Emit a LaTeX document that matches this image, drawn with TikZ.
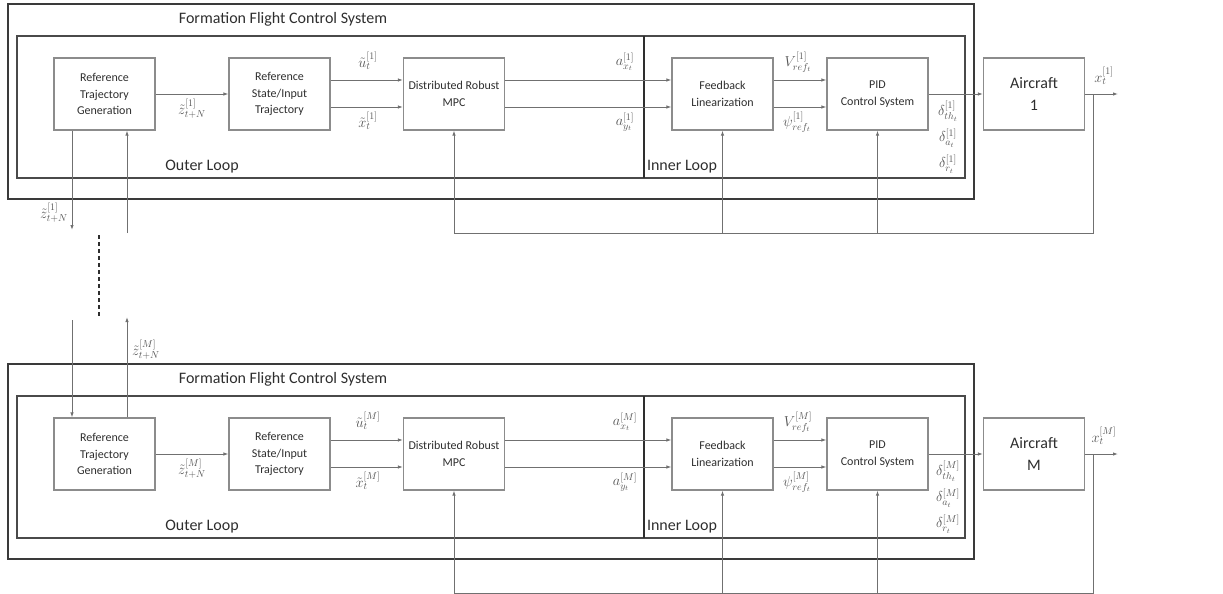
\documentclass[tikz,border=0pt]{standalone}
\usepackage[no-math]{fontspec}
\setmainfont{Carlito}
\usepackage{xcolor}
\usetikzlibrary{arrows.meta}
\definecolor{framegray}{HTML}{3A3A3A}
\definecolor{innergray}{HTML}{4A4A4A}
\definecolor{boxgray}{HTML}{8C8C8C}
\definecolor{linegray}{HTML}{707070}
\definecolor{txtgray}{HTML}{2E2E2E}
\definecolor{lblgray}{HTML}{555555}

\begin{document}
\begin{tikzpicture}[x=1pt,y=-1pt,
    blk/.style={draw=boxgray,line width=1.2pt,minimum width=101pt,minimum height=72pt,
      align=center,text=txtgray,font=\fontsize{12}{16.5}\selectfont},
    acft/.style={blk,font=\fontsize{16}{22.5}\selectfont},
    wire/.style={draw=linegray,line width=0.9pt},
    arr/.style={wire,-{Latex[length=5pt,width=3.5pt]}},
    lbl/.style={text=lblgray,font=\fontsize{14}{16}\selectfont,inner sep=0pt},
    stack/.style={lbl,align=center,font=\fontsize{14}{26}\selectfont},
    ttl/.style={text=txtgray,font=\fontsize{16}{19}\selectfont,inner sep=0pt}]
  \useasboundingbox (0,0) rectangle (1223,594);
  \foreach \s/\dy/\idx in {a/0/1,m/360/M} {
    \draw[line width=2.6pt,draw=framegray] (8,{4+\dy}) rectangle (974,{199+\dy});
    \draw[line width=1.8pt,draw=innergray] (17,{36+\dy}) rectangle (965,{178+\dy});
    \draw[line width=1.5pt,draw=txtgray] (644,{36+\dy}) -- (644,{178+\dy});
    \node[ttl] (title\s) at (283,{19+\dy}) {Formation Flight Control System};
    \node[ttl] (outer\s) at (202,{167+\dy}) {Outer Loop};
    \node[ttl] (inner\s) at (682,{167+\dy}) {Inner Loop};
    \node[blk] (rtg\s) at (104.5,{94+\dy}) {Reference\\Trajectory\\Generation};
    \node[blk] (rsit\s) at (279.5,{94+\dy}) {Reference\\State/Input\\Trajectory};
    \node[blk] (mpc\s) at (454,{94+\dy}) {Distributed Robust\\MPC};
    \node[blk] (fl\s) at (722.5,{94+\dy}) {Feedback\\Linearization};
    \node[blk] (pid\s) at (877.5,{94+\dy}) {PID\\Control System};
    \node[acft] (ac\s) at (1034,{94+\dy}) {Aircraft\\\idx};
    \coordinate (tap\s) at (1093,{94+\dy});
    \coordinate (out\s) at (1118,{94+\dy});
    \coordinate (fb\s) at (1093,{233+\dy});
    \draw[arr] (rtg\s) -- (rsit\s);
    \foreach \a/\b in {rsit/mpc,mpc/fl,fl/pid} {
      \draw[arr] ([yshift=14pt]\a\s.east) -- ([yshift=14pt]\b\s.west);
      \draw[arr] ([yshift=-13pt]\a\s.east) -- ([yshift=-13pt]\b\s.west);
    }
    \draw[arr] (pid\s) -- (ac\s);
    \draw[arr] (ac\s) -- (out\s);
    \draw[wire] (tap\s) -- (fb\s) -- (mpc\s.south |- fb\s);
    \foreach \b in {mpc,fl,pid} \draw[arr] (\b\s.south |- fb\s) -- (\b\s.south);
    \node[lbl] (zl\s) at (192,{109+\dy}) {$\tilde{z}^{[\idx]}_{t+N}$};
    \node[lbl] (ul\s) at (368,{61+\dy}) {$\tilde{u}^{[\idx]}_{t}$};
    \node[lbl] (xl\s) at (368,{121+\dy}) {$\tilde{x}^{[\idx]}_{t}$};
    \node[lbl] (axl\s) at (625,{62+\dy}) {$a^{[\idx]}_{x_t}$};
    \node[lbl] (ayl\s) at (625,{122+\dy}) {$a^{[\idx]}_{y_t}$};
    \node[lbl] (vl\s) at (798,{62+\dy}) {$V^{[\idx]}_{ref_t}$};
    \node[lbl] (pl\s) at (797,{122+\dy}) {$\psi^{[\idx]}_{ref_t}$};
    \node[stack] (dl\s) at (948,{137+\dy})
      {$\delta^{[\idx]}_{th_t}$\\$\delta^{[\idx]}_{a_t}$\\$\delta^{[\idx]}_{r_t}$};
    \node[lbl] (xo\s) at (1104,{76+\dy}) {$x^{[\idx]}_{t}$};
  }
  \coordinate (dn) at (72,230);
  \coordinate (up) at (127,233);
  \coordinate (dnm) at (72,320);
  \coordinate (upm) at (127,317);
  \coordinate (dots1) at (99,235);
  \coordinate (dots2) at (99,318);
  \draw[arr] (rtga.south -| dn) -- (dn);
  \draw[arr] (up) -- (up |- rtga.south);
  \draw[arr] (dnm) -- (dnm |- rtgm.north);
  \draw[arr] (upm |- rtgm.north) -- (upm);
  \draw[line width=2pt,draw=txtgray,dash pattern=on 4pt off 3pt] (dots1) -- (dots2);
  \node[lbl] (zdn) at (54,213) {$\tilde{z}^{[1]}_{t+N}$};
  \node[lbl] (zup) at (146,350) {$\tilde{z}^{[M]}_{t+N}$};
\end{tikzpicture}
\end{document}
